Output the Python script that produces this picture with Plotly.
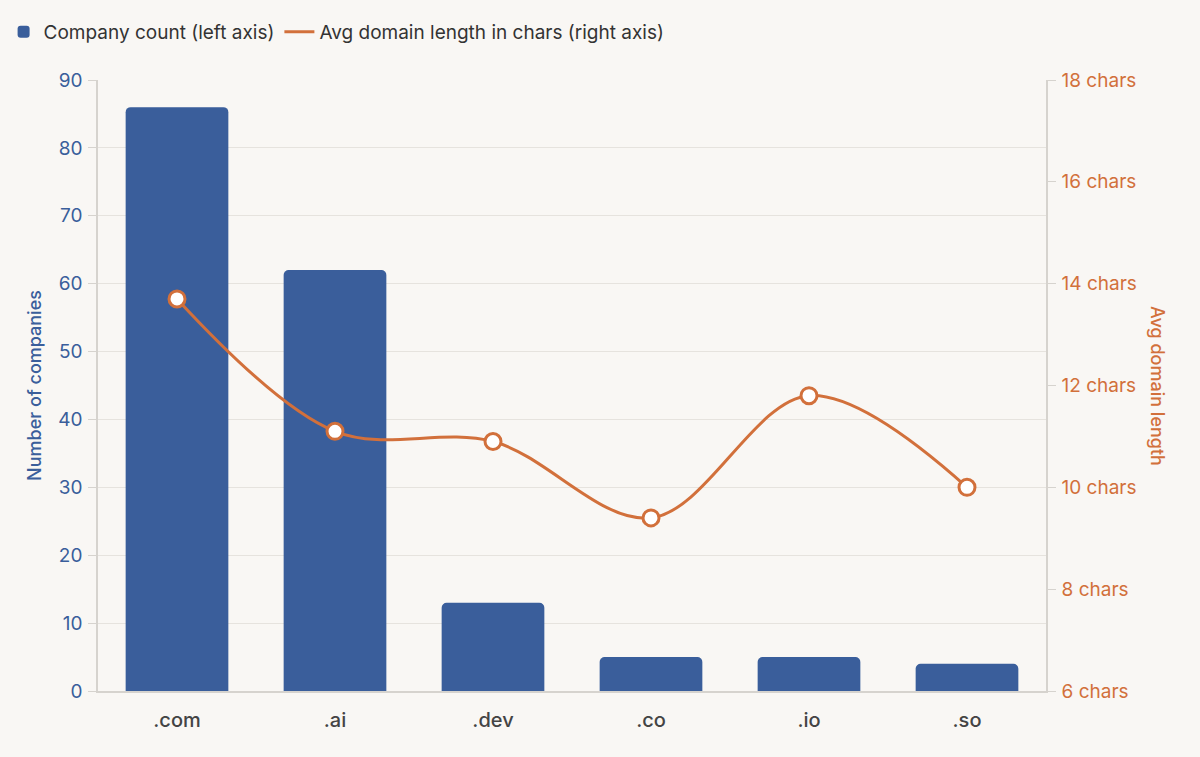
import plotly.graph_objects as go

# domain suffixes and the two series
tlds = [".com", ".ai", ".dev", ".co", ".io", ".so"]
company_count = [86, 62, 13, 5, 5, 4]
avg_length = [13.7, 11.1, 10.9, 9.4, 11.8, 10.0]

right_ticks = [6, 8, 10, 12, 14, 16, 18]
right_labels = ["{} chars".format(t) for t in right_ticks]

blue = "#3a5e9b"
orange = "#d2703b"
bg = "#f9f7f4"
grid = "#e6e3de"
font_family = "Inter, Roboto, 'Noto Sans', sans-serif"

fig = go.Figure()
fig.add_trace(go.Bar(x=tlds, y=company_count, name="Company count (left axis)",
                     marker=dict(color=blue, cornerradius=5, line=dict(width=0)),
                     width=0.65, yaxis="y"))
fig.add_trace(go.Scatter(x=tlds, y=avg_length, name="Avg domain length in chars (right axis)",
                         mode="lines+markers", yaxis="y2", showlegend=False,
                         line=dict(color=orange, width=3, shape="spline", smoothing=1.0),
                         marker=dict(size=16, color="white", line=dict(color=orange, width=3))))
# legend entry for the line: plain line swatch, no marker
fig.add_trace(go.Scatter(x=[None], y=[None], name="Avg domain length in chars (right axis)",
                         mode="lines", yaxis="y2", line=dict(color=orange, width=3)))

fig.update_layout(
    width=1200, height=757,
    margin=dict(l=98, r=154, t=80, b=66, autoexpand=False),
    paper_bgcolor=bg, plot_bgcolor=bg,
    font=dict(family=font_family, size=18, color="#333"),
    showlegend=True,
    legend=dict(orientation="h", x=0.003, xanchor="left", xref="container",
                y=0.958, yanchor="middle", yref="container",
                font=dict(size=19, color="#333"), bgcolor="rgba(0,0,0,0)",
                itemwidth=30, tracegroupgap=0),
    xaxis=dict(showgrid=False, showline=True, linecolor="#d6d3ce", linewidth=1.5,
               tickfont=dict(size=20, color="#444", weight=500), ticks="", ticklabelstandoff=10),
    yaxis=dict(range=[0, 90], dtick=10, showgrid=True, gridcolor=grid, gridwidth=1,
               showline=True, linecolor="#d6d3ce", linewidth=1.5,
               ticks="outside", ticklen=8, tickcolor="#d6d3ce",
               tickfont=dict(size=19, color=blue), zeroline=False, ticklabelstandoff=2,
               title=dict(text="Number of companies", font=dict(size=18, color=blue, weight=500),
                          standoff=12)),
    yaxis2=dict(range=[6, 18], tickvals=right_ticks, ticktext=right_labels,
                overlaying="y", side="right", showgrid=False,
                showline=True, linecolor="#d6d3ce", linewidth=1.5,
                ticks="outside", ticklen=8, tickcolor="#d6d3ce", ticklabelstandoff=2,
                tickfont=dict(size=19, color=orange), zeroline=False),
)

fig.add_annotation(text="Avg domain length", xref="paper", yref="paper",
                   x=1.0, xshift=124, y=0.5, textangle=90, showarrow=False,
                   font=dict(size=18, color=orange, weight=500))

fig.write_html("out.html", config={"displayModeBar": False},
               post_script="document.body.style.margin='0';document.body.style.background='%s';" % bg)
